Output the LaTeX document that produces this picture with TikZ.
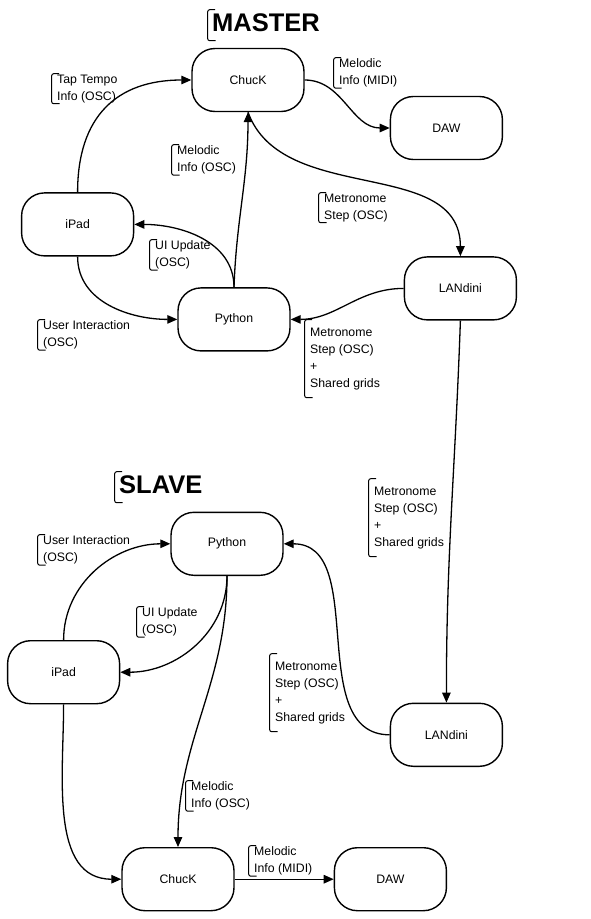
\documentclass[tikz,border=0pt]{standalone}
\usepackage{fontspec}
\setmainfont{Liberation Sans}
\usetikzlibrary{positioning,arrows.meta}
\tikzset{
  unit/.style={draw,rounded corners=23pt,minimum width=112pt,minimum height=63pt,line width=1.4pt,font=\fontsize{12.3}{17}\selectfont},
  note/.style={anchor=north west,align=left,inner xsep=6pt,inner ysep=1.5pt,font=\fontsize{12.3}{17}\selectfont,
    path picture={\draw[line width=1pt,rounded corners=2pt]
      ([shift={(8pt,-0.5pt)}]path picture bounding box.north west) -|
      ([shift={(0.5pt,0.5pt)}]path picture bounding box.south west) -- ++(8pt,0pt);}},
  tall/.style={minimum height=79pt},
  title/.style={note,font=\fontsize{25.5}{30}\selectfont\bfseries,inner xsep=5pt,text height=21pt,text depth=8pt},
  flow/.style={->,line width=1.3pt},
}

\begin{document}
\begin{tikzpicture}[x=1pt,y=-1pt,>={Triangle[length=10pt,width=8.5pt]}]
  \useasboundingbox (0,0) rectangle (590,919);
  % master
  \node[title] (mtitle) at (207,9) {MASTER};
  \node[unit] (mchuck) at (248,80) {ChucK};
  \node[unit,right=85pt of mchuck,yshift=-48pt] (mdaw) {DAW};
  \node[unit,below left=80pt and 57pt of mchuck] (mipad) {iPad};
  \node[unit,below=175pt of mchuck,xshift=-14pt] (mpython) {Python};
  \node[unit,below=96pt of mdaw,xshift=14pt] (mlandini) {LANdini};

  \node[note] (ntap) at (51,73) {Tap Tempo\\Info (OSC)};
  \node[note] (nmidi) at (333,57) {Melodic\\Info (MIDI)};
  \node[note] (nmel) at (171,144) {Melodic\\Info (OSC)};
  \node[note] (nstep) at (318,192) {Metronome\\Step (OSC)};
  \node[note] (nui) at (149,239) {UI Update\\(OSC)};
  \node[note] (nuser) at (37,319) {User Interaction\\(OSC)};
  \node[note,tall] (ngrid) at (304,319) {Metronome\\Step (OSC)\\+\\Shared grids};

  % slave
  \node[title] (stitle) at (114,471) {SLAVE};
  \node[unit,below=160pt of mpython,xshift=-7pt] (spython) {Python};
  \node[unit,below left=64pt and 50pt of spython] (sipad) {iPad};
  \node[unit,below=382pt of mlandini,xshift=-14pt] (slandini) {LANdini};
  \node[unit,below=271pt of spython,xshift=-49pt] (schuck) {ChucK};
  \node[unit,right=99pt of schuck] (sdaw) {DAW};

  \node[note] (suser) at (37,534) {User Interaction\\(OSC)};
  \node[note] (sui) at (136,606) {UI Update\\(OSC)};
  \node[note,tall] (slink) at (368,478) {Metronome\\Step (OSC)\\+\\Shared grids};
  \node[note,tall] (sgrid) at (269,653) {Metronome\\Step (OSC)\\+\\Shared grids};
  \node[note] (smel) at (185,780) {Melodic\\Info (OSC)};
  \node[note] (smidi) at (248,845) {Melodic\\Info (MIDI)};

  \draw[flow] (mipad.north) to[out=90,in=180,looseness=1.2] (mchuck.west);
  \draw[flow] (mchuck.east) to[out=0,in=180] (mdaw.west);
  \draw[flow] (mpython.north) to[out=88,in=-90] (mchuck.south);
  \draw[flow] (mpython.north) to[out=90,in=0] (mipad.east);
  \draw[flow] (mchuck.south) to[out=-70,in=90] (mlandini.north);
  \draw[flow] (mipad.south) to[out=-90,in=180] (mpython.west);
  \draw[flow] (mlandini.west) to[out=180,in=0] (mpython.east);
  \draw[flow] (mlandini.south) to[out=-92,in=90] (slandini.north);

  \draw[flow] (sipad.north) to[out=90,in=180] (spython.west);
  \draw[flow] (spython.south) to[out=-90,in=0] (sipad.east);
  \draw[flow] (spython.south) to[out=-90,in=90] (schuck.north);
  \draw[flow] (slandini.west) to[out=180,in=0] (spython.east);
  \draw[flow] (sipad.south) to[out=-90,in=180] (schuck.west);
  \draw[flow] (schuck) -- (sdaw);
\end{tikzpicture}
\end{document}
